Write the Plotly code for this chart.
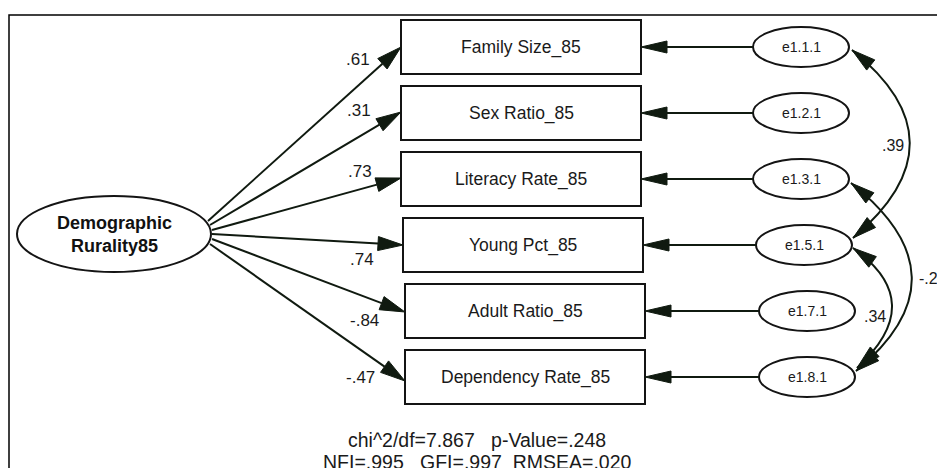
import plotly.graph_objects as go

# ---------------- data ----------------
latent_name = "Demographic<br>Rurality85"
indicators = ["Family Size_85", "Sex Ratio_85", "Literacy Rate_85",
              "Young Pct_85", "Adult Ratio_85", "Dependency Rate_85"]
loadings = [0.61, 0.31, 0.73, 0.74, -0.84, -0.47]
errors = ["e1.1.1", "e1.2.1", "e1.3.1", "e1.5.1", "e1.7.1", "e1.8.1"]
cov_from = [0, 2, 3]
cov_to = [3, 5, 5]
cov_labels = [".39", "-.2", ".34"]
fit_names = ["chi^2/df", "p-Value", "NFI", "GFI", "RMSEA"]
fit_values = ["7.867", ".248", ".995", ".997", ".020"]

# ---------------- layout (pixel space) ----------------
W, H = 937, 468
INK = "#101a10"
LINE = "#141414"
FONT = "Liberation Sans, Arial, sans-serif"

row_y = [47 + 66 * i for i in range(6)]
box_left = [401, 401, 401, 403, 405, 405]
box_w, box_h = 240, 54
err_cx = [801, 801, 801, 804, 807, 807]
err_rx, err_ry = 48, 20
lat_cx, lat_cy, lat_rx, lat_ry = 114, 234, 97, 38
load_start = [(208, 221), (210, 225), (212, 230), (212, 234), (212, 239), (210, 244)]
tip_dy = [0, -1, -1, 0, 1, 4]
load_lab = [(358, 59), (359, 110), (360, 171), (362, 259), (364, 320), (360, 377)]
# covariance curves: start pt, control pt, end pt, label pos, label anchor
cov_geom = [
    ((852, 50), (967, 142), (853, 238), (893, 145), "center"),
    ((851, 183), (970, 277), (856, 371), (917, 278), "left"),
    ((853, 248), (929, 302), (857, 368), (875, 316), "center"),
]


def fmt(v):
    s = f"{v:.2f}"
    return s.replace("0.", ".", 1)


def head(tip, frm, L=24, hw=6.5):
    dx, dy = tip[0] - frm[0], tip[1] - frm[1]
    d = (dx * dx + dy * dy) ** 0.5
    ux, uy = dx / d, dy / d
    bx, by = tip[0] - ux * L, tip[1] - uy * L
    nx, ny = -uy, ux
    return (f"M {tip[0]},{tip[1]} L {bx + nx * hw},{by + ny * hw} "
            f"L {bx - nx * hw},{by - ny * hw} Z"), (bx, by)


shapes = []
ann = []

# frame
shapes.append(dict(type="rect", x0=9, y0=15, x1=W + 20, y1=H + 20,
                   line=dict(color="#000", width=1.5), layer="below"))

# latent ellipse
shapes.append(dict(type="circle", x0=lat_cx - lat_rx, x1=lat_cx + lat_rx,
                   y0=lat_cy - lat_ry, y1=lat_cy + lat_ry,
                   line=dict(color=LINE, width=2), fillcolor="white"))
ann.append(dict(x=lat_cx, y=lat_cy, text=f"<b>{latent_name}</b>", showarrow=False,
                font=dict(family=FONT, size=18, color="#111")))

for i, name in enumerate(indicators):
    y = row_y[i]
    x0 = box_left[i]
    x1 = x0 + box_w
    shapes.append(dict(type="rect", x0=x0, x1=x1, y0=y - box_h / 2, y1=y + box_h / 2,
                       line=dict(color=LINE, width=2), fillcolor="white"))
    ann.append(dict(x=(x0 + x1) / 2, y=y, text=name, showarrow=False,
                    font=dict(family=FONT, size=17.5, color="#1a1a1a")))
    # loading arrow
    st = load_start[i]
    tip = (x0, y + tip_dy[i])
    p, b = head(tip, st, L=25, hw=7)
    shapes.append(dict(type="line", x0=st[0], y0=st[1], x1=b[0], y1=b[1],
                       line=dict(color=INK, width=2)))
    shapes.append(dict(type="path", path=p, fillcolor=INK, line=dict(color=INK, width=1)))
    lx, ly = load_lab[i]
    ann.append(dict(x=lx, y=ly, text=fmt(loadings[i]), showarrow=False,
                    font=dict(family=FONT, size=17, color="#1a1a1a")))
    # error ellipse
    cx = err_cx[i]
    shapes.append(dict(type="circle", x0=cx - err_rx, x1=cx + err_rx,
                       y0=y - err_ry, y1=y + err_ry,
                       line=dict(color=LINE, width=2), fillcolor="white"))
    ann.append(dict(x=cx, y=y, text=errors[i], showarrow=False,
                    font=dict(family=FONT, size=14, color="#1a1a1a")))
    # error arrow
    p, b = head((x1, y), (cx - err_rx, y), L=26, hw=6)
    shapes.append(dict(type="line", x0=cx - err_rx, y0=y, x1=b[0], y1=y,
                       line=dict(color=INK, width=2)))
    shapes.append(dict(type="path", path=p, fillcolor=INK, line=dict(color=INK, width=1)))

# covariance curves
for k in range(len(cov_from)):
    p0, c, p2, lab, anc = cov_geom[k]
    shapes.append(dict(type="path",
                       path=f"M {p0[0]},{p0[1]} Q {c[0]},{c[1]} {p2[0]},{p2[1]}",
                       line=dict(color=INK, width=2)))
    for tip in (p0, p2):
        p, _ = head(tip, c, L=24, hw=6.5)
        shapes.append(dict(type="path", path=p, fillcolor=INK, line=dict(color=INK, width=1)))
    ann.append(dict(x=lab[0], y=lab[1], text=cov_labels[k], showarrow=False,
                    xanchor=anc, font=dict(family=FONT, size=16, color="#1a1a1a")))

# fit statistics
line1 = f"{fit_names[0]}={fit_values[0]}   {fit_names[1]}={fit_values[1]}"
line2 = (f"{fit_names[2]}={fit_values[2]}   {fit_names[3]}={fit_values[3]}  "
         f"{fit_names[4]}={fit_values[4]}")
ann.append(dict(x=477, y=440, text=line1, showarrow=False,
                font=dict(family=FONT, size=19.5, color="#1a1a1a")))
ann.append(dict(x=477, y=462, text=line2, showarrow=False,
                font=dict(family=FONT, size=19.5, color="#1a1a1a")))

fig = go.Figure()
fig.add_trace(go.Scatter(x=[0, W], y=[0, H], mode="markers",
                         marker=dict(opacity=0), hoverinfo="skip", showlegend=False))
fig.update_layout(
    width=W, height=H, margin=dict(l=0, r=0, t=0, b=0),
    paper_bgcolor="white", plot_bgcolor="white",
    xaxis=dict(range=[0, W], visible=False, fixedrange=True),
    yaxis=dict(range=[H, 0], visible=False, fixedrange=True),
    shapes=shapes, annotations=ann, showlegend=False,
)
fig.write_html("out.html", config={"displayModeBar": False},
               post_script="document.body.style.margin='0';document.body.style.overflow='hidden';")
